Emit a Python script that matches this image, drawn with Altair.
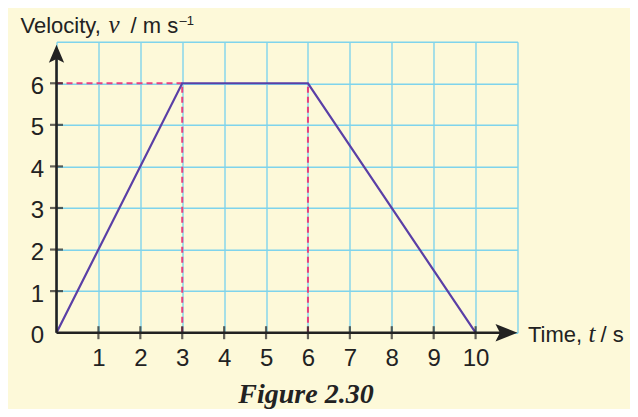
import altair as alt
import pandas as pd

# ---- data ----
time_s = [0, 3, 6, 10]
velocity = [0, 6, 6, 0]
x_tick_values = [1, 2, 3, 4, 5, 6, 7, 8, 9, 10]
y_tick_values = [1, 2, 3, 4, 5, 6]
x_grid_values = [0, 1, 2, 3, 4, 5, 6, 7, 8, 9, 10, 11]
y_grid_values = [0, 1, 2, 3, 4, 5, 6, 7]
guide_times = [3, 6]          # dashed verticals
guide_level = 6               # dashed horizontal to the y axis
caption = "Figure 2.30"

W, H = 461, 291
SANS = "Liberation Sans"
SERIF = "Liberation Serif"
LINE = "#5a3fa6"
DASH = "#e8407f"
GRID = "#7fd4ec"
INK = "#222222"
BG = "#fdf9d9"

xs = alt.Scale(domain=[x_grid_values[0], x_grid_values[-1]], nice=False, zero=False)
ys = alt.Scale(domain=[y_grid_values[0], y_grid_values[-1]], nice=False, zero=False)

xaxis = alt.Axis(values=x_grid_values, title=None, grid=True,
                 labelExpr="datum.value >= 1 && datum.value <= 10 ? datum.label : ''",
                 labelPadding=14, labelBaseline="top")
yaxis = alt.Axis(values=y_grid_values, title=None, grid=True,
                 labelExpr="datum.value <= 6 ? datum.label : ''",
                 labelPadding=13, labelOffset=3)

def X(f="x"):
    return alt.X(f"{f}:Q", scale=xs, axis=xaxis)

def Y(f="y"):
    return alt.Y(f"{f}:Q", scale=ys, axis=yaxis)

df_line = pd.DataFrame({"x": time_s, "y": velocity})
guide_rows = [{"x": 0, "y": guide_level, "x2": guide_times[0], "y2": guide_level}]
for t in guide_times:
    guide_rows.append({"x": t, "y": 0, "x2": t, "y2": guide_level})
df_guides = pd.DataFrame(guide_rows)
df_yt = pd.DataFrame({"x": [0] * len(y_tick_values), "y": y_tick_values})
df_xt = pd.DataFrame({"x": x_tick_values, "y": [0] * len(x_tick_values)})
one = alt.Data(values=[{}])

guides = alt.Chart(df_guides).mark_rule(color=DASH, strokeWidth=2, strokeDash=[6, 4]).encode(
    x=X(), y=Y(), x2="x2:Q", y2="y2:Q")

yaxis_line = alt.Chart(one).mark_rule(color=INK, strokeWidth=2.6).encode(
    x=alt.value(0), y=alt.value(H), y2=alt.value(12))
xaxis_line = alt.Chart(one).mark_rule(color=INK, strokeWidth=2.6).encode(
    x=alt.value(0), x2=alt.value(W - 12), y=alt.value(H))

line = alt.Chart(df_line).mark_line(color=LINE, strokeWidth=2.2).encode(x=X(), y=Y())

yticks = alt.Chart(df_yt).mark_tick(orient="horizontal", size=13, thickness=2.2, color=INK).encode(
    x=X(), y=Y())
xticks = alt.Chart(df_xt).mark_tick(orient="vertical", size=13, thickness=2.2, color=INK).encode(
    x=X(), y=Y())

up_arrow = alt.Chart(one).mark_point(
    shape="M0,-1L0.85,1L0,0.6L-0.85,1Z", filled=True, opacity=1, color=INK, size=324
).encode(x=alt.value(0), y=alt.value(12))
right_arrow = alt.Chart(one).mark_point(
    shape="M1,0L-1,0.8L-0.6,0L-1,-0.8Z", filled=True, opacity=1, color=INK, size=484
).encode(x=alt.value(W - 11), y=alt.value(H))

def txt(s, x, y, font=SANS, size=22, style="normal", weight="normal", align="left"):
    return alt.Chart(one).mark_text(
        text=s, font=font, fontSize=size, fontStyle=style, fontWeight=weight,
        align=align, baseline="alphabetic", color=INK
    ).encode(x=alt.value(x), y=alt.value(y))

texts = [
    txt("Velocity,", -36, -8.7),
    txt("v", 52, -8.7, font=SERIF, style="italic", size=25),
    txt("/ m s", 74, -8.7),
    txt("\u20131", 123, -16.5, size=13),
    txt("Time,", 471.5, 9.3 + H),
    txt("t", 532, 9.3 + H, font=SERIF, style="italic", size=25),
    txt("/ s", 544, 9.3 + H),
    txt(caption, 249.5, 361.5, font=SERIF, size=28, style="italic", weight="bold", align="center"),
]

chart = alt.layer(
    guides, line, yaxis_line, xaxis_line, yticks, xticks, up_arrow, right_arrow, *texts
).properties(
    width=W, height=H,
    autosize=alt.AutoSizeParams(type="none"),
    padding={"left": 48.5, "top": 33.7, "right": 112, "bottom": 76},
    background=BG,
).configure_axis(
    labelFont=SANS, labelFontSize=24, labelColor=INK,
    gridColor=GRID, gridWidth=1.4, gridOpacity=1,
    domain=False, ticks=False,
).configure_view(strokeWidth=0)

chart.save("out.html", embed_options={"renderer": "svg", "actions": False})
